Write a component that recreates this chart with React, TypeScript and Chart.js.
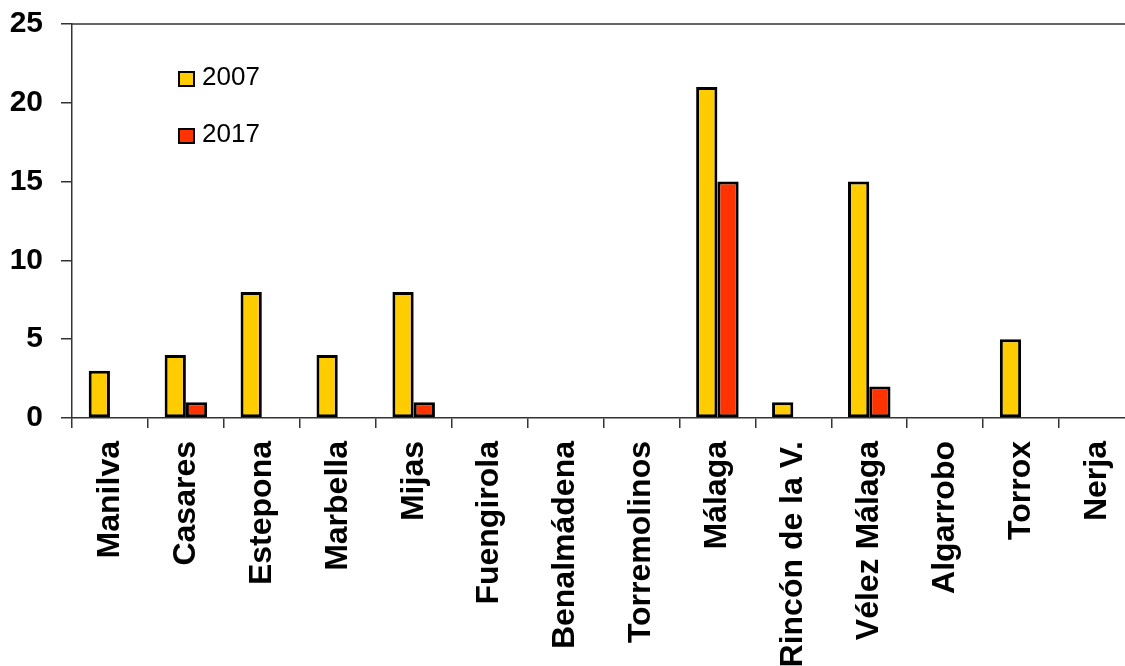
import React, { useEffect, useRef } from "react";
import { Chart, registerables } from "chart.js";

Chart.register(...registerables);

const categories = [
  "Manilva",
  "Casares",
  "Estepona",
  "Marbella",
  "Mijas",
  "Fuengirola",
  "Benalmádena",
  "Torremolinos",
  "Málaga",
  "Rincón de la V.",
  "Vélez Málaga",
  "Algarrobo",
  "Torrox",
  "Nerja",
];
const values2007 = [3, 4, 8, 4, 8, 0, 0, 0, 21, 1, 15, 0, 5, 0];
const values2017 = [0, 1, 0, 0, 1, 0, 0, 0, 15, 0, 2, 0, 0, 0];
const seriesLabels = ["2007", "2017"];
const yTicks = [0, 5, 10, 15, 20, 25];

const FONT = "'Liberation Sans', Arial, sans-serif";

const frameAndLegend = {
  id: "frameAndLegend",
  afterDraw(chart: any) {
    const { ctx, chartArea } = chart;
    ctx.save();
    ctx.strokeStyle = "#333";
    ctx.lineWidth = 1.5;
    ctx.beginPath();
    ctx.moveTo(chartArea.left, chartArea.top);
    ctx.lineTo(chartArea.right, chartArea.top);
    ctx.stroke();
    const rows = [
      { dy: 48, i: 0 },
      { dy: 105, i: 1 },
    ];
    ctx.font = `26px ${FONT}`;
    ctx.textBaseline = "middle";
    ctx.textAlign = "left";
    rows.forEach(({ dy, i }) => {
      const ds = chart.data.datasets[i];
      const bx = chartArea.left + 107;
      const by = chartArea.top + dy;
      ctx.fillStyle = ds.backgroundColor;
      ctx.fillRect(bx, by, 15, 14);
      ctx.strokeStyle = "#000";
      ctx.lineWidth = 2;
      ctx.strokeRect(bx, by, 15, 14);
      ctx.fillStyle = "#000";
      ctx.fillText(ds.label, bx + 23, by + 6);
    });
    ctx.restore();
  },
};

export default function App() {
  const ref = useRef<HTMLCanvasElement>(null);
  useEffect(() => {
    document.body.style.margin = "0";
    document.body.style.overflow = "hidden";
    const canvas = ref.current!;
    const chart = new Chart(canvas, {
      type: "bar",
      data: {
        labels: categories,
        datasets: [
          {
            label: seriesLabels[0],
            data: values2007,
            backgroundColor: "#FFCC00",
            borderColor: "#000",
            borderWidth: 3,
            borderSkipped: false,
            categoryPercentage: 0.56,
            barPercentage: 1.0,
          },
          {
            label: seriesLabels[1],
            data: values2017,
            backgroundColor: "#FF3300",
            borderColor: "#000",
            borderWidth: 3,
            borderSkipped: false,
            categoryPercentage: 0.56,
            barPercentage: 1.0,
          },
        ],
      },
      options: {
        responsive: false,
        animation: false,
        layout: { padding: { left: 0, top: 24, right: 25, bottom: 0 } },
        plugins: {
          legend: { display: false },
          tooltip: { enabled: false },
        },
        scales: {
          x: {
            grid: {
              display: true,
              drawOnChartArea: false,
              drawTicks: true,
              tickLength: 10,
              color: "#333",
              lineWidth: 1.5,
              offset: true,
            },
            border: { display: true, color: "#333", width: 1.5 },
            ticks: {
              color: "#000",
              font: { family: FONT, size: 32, weight: "bold" },
              maxRotation: 90,
              minRotation: 90,
              autoSkip: false,
              padding: 13,
            },
            afterFit(scale: any) {
              scale.height = 248;
            },
          },
          y: {
            min: 0,
            max: 25,
            afterBuildTicks(scale: any) {
              scale.ticks = yTicks.map((v) => ({ value: v }));
            },
            grid: {
              display: true,
              drawOnChartArea: false,
              drawTicks: true,
              tickLength: 11,
              color: "#333",
              lineWidth: 1.5,
            },
            border: { display: true, color: "#333", width: 1.5 },
            ticks: {
              color: "#000",
              font: { family: FONT, size: 30, weight: "bold" },
              padding: 18,
            },
            afterFit(scale: any) {
              scale.width = 72;
              scale.paddingTop = 0;
              scale.paddingBottom = 0;
            },
          },
        },
      },
      plugins: [frameAndLegend],
    });
    return () => chart.destroy();
  }, []);
  return (
    <div
      style={{
        position: "fixed",
        left: 0,
        top: 0,
        width: 1125,
        height: 666,
        overflow: "hidden",
        background: "#fff",
      }}
    >
      <canvas ref={ref} width={1160} height={666} style={{ display: "block" }} />
    </div>
  );
}
